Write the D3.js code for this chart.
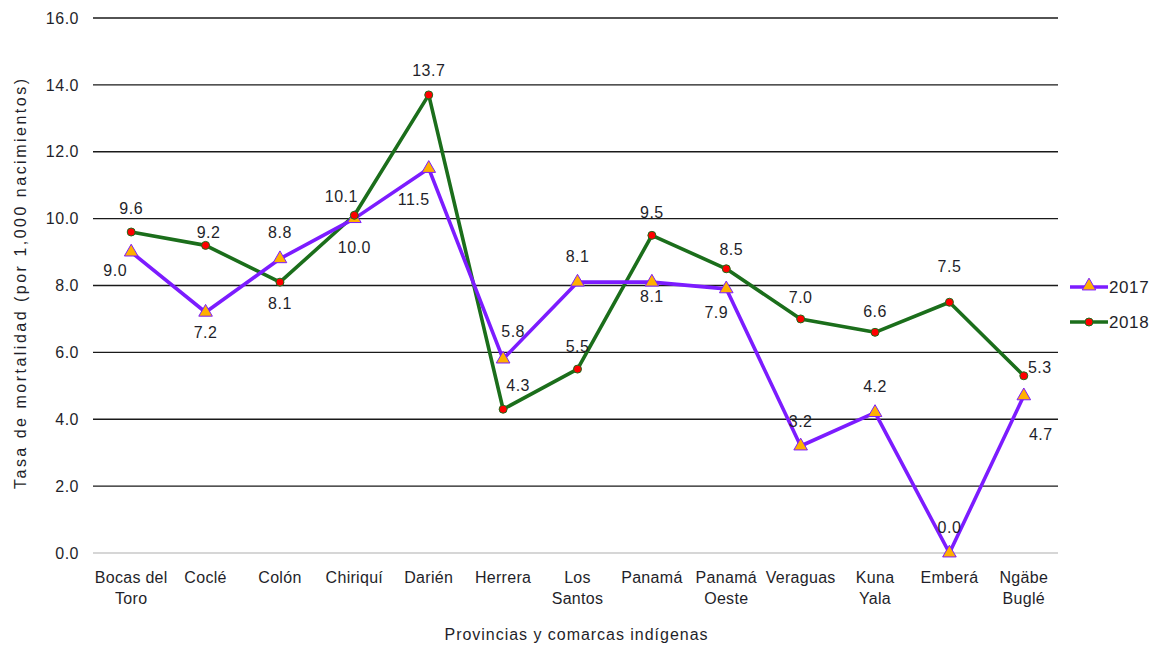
<!DOCTYPE html>
<html><head><meta charset="utf-8">
<script src="https://cdn.jsdelivr.net/npm/d3@7"></script>
<style>body{margin:0;background:#fff}svg{display:block}text{font-family:"Liberation Sans",Arial,sans-serif;fill:#1f1f2a}</style>
</head><body><svg id="c" width="1157" height="645"></svg>
<script>
const categories = ["Bocas del\nToro","Coclé","Colón","Chiriquí","Darién","Herrera","Los\nSantos","Panamá","Panamá\nOeste","Veraguas","Kuna\nYala","Emberá","Ngäbe\nBuglé"];
const values2017 = [9.0,7.2,8.8,10.0,11.5,5.8,8.1,8.1,7.9,3.2,4.2,0.0,4.7];
const values2018 = [9.6,9.2,8.1,10.1,13.7,4.3,5.5,9.5,8.5,7.0,6.6,7.5,5.3];
const yTicks = [0,2,4,6,8,10,12,14,16];
const seriesNames = ["2017","2018"];
// data-label offsets (dx, dy) from each point
const lab2017 = [[-16,24],[0,26],[0,-21],[0,34],[-15,37],[10,-22],[0,-20],[0,20],[-10,29],[0,-19],[0,-21],[0,-20],[17,44]];
const lab2018 = [[0,-18],[3,-7],[0,27],[-13,-13],[0,-19],[15,-18],[0,-17],[0,-17],[5,-14],[0,-16],[0,-15],[0,-30],[16,-3]];

const svg = d3.select("#c");
const x = d3.scaleBand().domain(categories).range([94,1061]);
const y = d3.scaleLinear().domain([0,16]).range([553,18]);
const cx = d => x(d) + x.bandwidth()/2;
const FS = "16px";

svg.append("g").selectAll("line").data(yTicks).join("line")
  .attr("x1",93).attr("x2",1058).attr("y1",d=>y(d)).attr("y2",d=>y(d))
  .attr("stroke",d=>d===0?"#c8c8c8":"#1a1a1a").attr("stroke-width",1.3);

const yAxis = svg.append("g").attr("transform","translate(93,0)")
  .call(d3.axisLeft(y).tickValues(yTicks).tickFormat(d3.format(".1f")).tickSize(0).tickPadding(14));
yAxis.select(".domain").remove();
yAxis.selectAll("text").style("font-size",FS).style("letter-spacing","0.5px").attr("fill","#1f1f2a");

const xAxis = svg.append("g").attr("transform","translate(0,553)")
  .call(d3.axisBottom(x).tickSize(0).tickFormat(""));
xAxis.select(".domain").remove();
xAxis.selectAll(".tick").each(function(d){
  const t = d3.select(this).append("text").attr("text-anchor","middle").style("font-size",FS).style("letter-spacing","0.3px").attr("fill","#1f1f2a");
  d.split("\n").forEach((s,i)=>t.append("tspan").attr("x",0).attr("y",30+i*21).text(s));
});

svg.append("text").attr("transform","translate(26,284) rotate(-90)").attr("text-anchor","middle")
  .style("font-size",FS).attr("textLength",410).attr("lengthAdjust","spacing")
  .text("Tasa de mortalidad (por 1,000 nacimientos)");
svg.append("text").attr("x",576).attr("y",640).attr("text-anchor","middle")
  .style("font-size",FS).attr("textLength",263).attr("lengthAdjust","spacing")
  .text("Provincias  y comarcas indígenas");

const line = d3.line().x((d,i)=>cx(categories[i])).y(d=>y(d));
const c17 = "#7c1cff", c18 = "#1b6e1b";
svg.append("path").datum(values2018).attr("d",line).attr("fill","none").attr("stroke",c18).attr("stroke-width",3.6).attr("stroke-linejoin","round");
svg.append("path").datum(values2017).attr("d",line).attr("fill","none").attr("stroke",c17).attr("stroke-width",3.6).attr("stroke-linejoin","round");

const tri = d3.symbol().type(d3.symbolTriangle).size(80);
svg.append("g").selectAll("path").data(values2017).join("path")
  .attr("d",tri).attr("transform",(d,i)=>`translate(${cx(categories[i])},${y(d)})`)
  .attr("fill","#ffb000").attr("stroke",c17).attr("stroke-width",1);
svg.append("g").selectAll("circle").data(values2018).join("circle")
  .attr("cx",(d,i)=>cx(categories[i])).attr("cy",d=>y(d)).attr("r",4)
  .attr("fill","#ff0000").attr("stroke",c18).attr("stroke-width",1);

function labels(vals,off){
  svg.append("g").selectAll("text").data(vals).join("text")
    .attr("x",(d,i)=>cx(categories[i])+off[i][0])
    .attr("y",(d,i)=>y(d)+off[i][1])
    .attr("text-anchor","middle").style("font-size",FS).style("letter-spacing","0.5px").text(d=>d3.format(".1f")(d));
}
labels(values2017,lab2017);
labels(values2018,lab2018);

const lg = svg.append("g");
[[c17,287,"tri"],[c18,322,"circ"]].forEach(([c,yy,m],i)=>{
  lg.append("line").attr("x1",1070).attr("x2",1108).attr("y1",yy).attr("y2",yy).attr("stroke",c).attr("stroke-width",3.6);
  if(m==="tri") lg.append("path").attr("d",tri).attr("transform",`translate(1089,${yy-1})`).attr("fill","#ffb000").attr("stroke",c17);
  else lg.append("circle").attr("cx",1089).attr("cy",yy).attr("r",4).attr("fill","#ff0000").attr("stroke",c18);
  lg.append("text").attr("x",1109).attr("y",yy+6).style("font-size","17px").style("letter-spacing","0.6px").text(seriesNames[i]);
});
</script></body></html>
